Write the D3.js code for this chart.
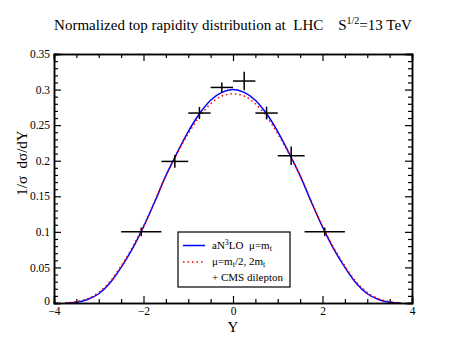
<!DOCTYPE html>
<html>
<head>
<meta charset="utf-8">
<script src="https://cdn.jsdelivr.net/npm/d3@7"></script>
<style>
  body { margin: 0; background: #fff; }
  text { font-family: "Liberation Serif", "DejaVu Serif", serif; fill: #000; }
</style>
</head>
<body>
<div class="chart"></div>
<script>
// rapidity grid for the theory curves
var rapidity = [-3.75, -3.5, -3.25, -3, -2.75, -2.5, -2.25, -2, -1.75, -1.5, -1.25, -1, -0.75, -0.5, -0.25,
  0, 0.25, 0.5, 0.75, 1, 1.25, 1.5, 1.75, 2, 2.25, 2.5, 2.75, 3, 3.25, 3.5, 3.75];
// aN3LO, mu = mt
var an3lo = [0, 0.001, 0.005, 0.013, 0.028, 0.050, 0.076, 0.107, 0.142, 0.179, 0.211, 0.241, 0.266, 0.285, 0.296,
  0.300, 0.296, 0.285, 0.266, 0.241, 0.211, 0.179, 0.142, 0.107, 0.076, 0.050, 0.028, 0.013, 0.005, 0.001, 0];
// mu = mt/2, 2mt
var scaleVar = [0, 0.002, 0.006, 0.015, 0.030, 0.052, 0.078, 0.108, 0.143, 0.179, 0.210, 0.238, 0.262, 0.280, 0.291,
  0.294, 0.291, 0.280, 0.262, 0.238, 0.210, 0.179, 0.143, 0.108, 0.078, 0.052, 0.030, 0.015, 0.006, 0.002, 0];

// CMS dilepton data
var cmsY = [-2.05, -1.3, -0.75, -0.25, 0.25, 0.75, 1.3, 2.05];
var cmsHalfBin = [0.45, 0.3, 0.25, 0.25, 0.25, 0.25, 0.3, 0.45];
var cmsValue = [0.100, 0.199, 0.267, 0.303, 0.312, 0.267, 0.207, 0.100];
var cmsErr = [0.006, 0.009, 0.0085, 0.007, 0.013, 0.009, 0.013, 0.006];

var xTicks = [-4, -2, 0, 2, 4];
var yTicks = [0, 0.05, 0.1, 0.15, 0.2, 0.25, 0.3, 0.35];

var width = 463, height = 358;
var padL = 54, padR = 412, padT = 54, padB = 303;

var svg = d3.select(".chart").append("svg")
  .attr("width", width)
  .attr("height", height);

var x = d3.scaleLinear().domain([-4, 4]).range([padL, padR]);
var y = d3.scaleLinear().domain([0, 0.35]).range([padB, padT]);

// title
var title = svg.append("text")
  .attr("x", 233).attr("y", 30)
  .attr("text-anchor", "middle")
  .style("font-size", "15px")
  .style("white-space", "pre");
title.append("tspan").text("Normalized top rapidity distribution at  LHC    S");
title.append("tspan").attr("dy", -6).style("font-size", "10px").text("1/2");
title.append("tspan").attr("dy", 6).text("=13 TeV");

// curves
var line = d3.line()
  .x((d, i) => x(rapidity[i]))
  .y((d) => y(d))
  .curve(d3.curveMonotoneX);

var plot = svg.append("g");
plot.append("defs").append("clipPath").attr("id", "clip")
  .append("rect").attr("x", padL).attr("y", padT).attr("width", padR - padL).attr("height", padB - padT);

plot.append("path")
  .datum(an3lo)
  .attr("d", line)
  .attr("fill", "none")
  .attr("stroke", "#0000ff")
  .attr("stroke-width", 1.5)
  .attr("clip-path", "url(#clip)");

plot.append("path")
  .datum(scaleVar)
  .attr("d", line)
  .attr("fill", "none")
  .attr("stroke", "#ff0000")
  .attr("stroke-width", 1.5)
  .attr("stroke-dasharray", "1.5,3")
  .attr("clip-path", "url(#clip)");

// CMS crosses
var cms = plot.selectAll(".cms")
  .data(cmsY)
  .enter()
  .append("g")
  .attr("class", "cms");

cms.append("line")
  .attr("x1", (d, i) => x(d - cmsHalfBin[i]))
  .attr("x2", (d, i) => x(d + cmsHalfBin[i]))
  .attr("y1", (d, i) => y(cmsValue[i]))
  .attr("y2", (d, i) => y(cmsValue[i]))
  .attr("stroke", "#000")
  .attr("stroke-width", 1.5);

cms.append("line")
  .attr("x1", (d) => x(d))
  .attr("x2", (d) => x(d))
  .attr("y1", (d, i) => y(cmsValue[i] - cmsErr[i]))
  .attr("y2", (d, i) => y(cmsValue[i] + cmsErr[i]))
  .attr("stroke", "#000")
  .attr("stroke-width", 1.5);

// axes frame with inward ticks on all sides
var xAxisB = d3.axisBottom(x).tickValues(xTicks).tickSize(-7).tickPadding(10).tickFormat(d3.format("d"));
var xAxisT = d3.axisTop(x).tickValues(xTicks).tickSize(-7).tickFormat("");
var yAxisL = d3.axisLeft(y).tickValues(yTicks).tickSize(-7).tickPadding(10).tickFormat((d) => d === 0 ? "0" : String(+d.toFixed(2)));
var yAxisR = d3.axisRight(y).tickValues(yTicks).tickSize(-7).tickFormat("");

var xMinor = d3.range(-4, 4.01, 0.5).filter((d) => d % 2 !== 0);
var yMinor = d3.range(0, 0.351, 0.01).filter((d) => Math.abs(d / 0.05 - Math.round(d / 0.05)) > 1e-6);

function minor(axis, vals) {
  return axis.tickValues(vals).tickSize(-4).tickFormat("");
}

var gB = svg.append("g").attr("transform", `translate(0,${padB})`);
gB.call(xAxisB);
gB.append("g").call(minor(d3.axisBottom(x), xMinor));
var gT = svg.append("g").attr("transform", `translate(0,${padT})`);
gT.call(xAxisT);
gT.append("g").call(minor(d3.axisTop(x), xMinor));
var gL = svg.append("g").attr("transform", `translate(${padL},0)`);
gL.call(yAxisL);
gL.append("g").call(minor(d3.axisLeft(y), yMinor));
var gR = svg.append("g").attr("transform", `translate(${padR},0)`);
gR.call(yAxisR);
gR.append("g").call(minor(d3.axisRight(y), yMinor));

[gB, gT, gL, gR].forEach((g) => g.attr("font-family", "Liberation Serif, serif").attr("font-size", 11.5));
svg.selectAll(".domain").attr("stroke", "#000").attr("stroke-width", 1.5);
svg.selectAll(".tick line").attr("stroke", "#000").attr("stroke-width", 1.2);
svg.selectAll(".tick text").attr("fill", "#000");
gL.selectAll(".tick text").attr("x", -4).attr("dy", "0.32em");
gL.selectAll(".tick text").filter((d) => d === 0).attr("dy", "0.15em");
gB.selectAll(".tick text").attr("y", 4).attr("dy", "0.71em");

// axis labels
svg.append("text")
  .attr("x", 233).attr("y", 332)
  .attr("text-anchor", "middle")
  .style("font-size", "15px")
  .text("Y");

svg.append("text")
  .attr("transform", "translate(27,163) rotate(-90)")
  .attr("text-anchor", "middle")
  .style("font-size", "15px")
  .style("white-space", "pre")
  .text("1/σ  dσ/dY");

// legend
var legend = svg.append("g");
legend.append("rect")
  .attr("x", 178).attr("y", 232)
  .attr("width", 112).attr("height", 55)
  .attr("fill", "#fff")
  .attr("stroke", "#000")
  .attr("stroke-width", 1.2);

legend.append("line")
  .attr("x1", 183).attr("x2", 205).attr("y1", 245.5).attr("y2", 245.5)
  .attr("stroke", "#0000ff").attr("stroke-width", 1.5);
legend.append("line")
  .attr("x1", 183).attr("x2", 205).attr("y1", 262).attr("y2", 262)
  .attr("stroke", "#ff0000").attr("stroke-width", 1.5).attr("stroke-dasharray", "1.5,3");

var t1 = legend.append("text").attr("x", 212).attr("y", 249).style("font-size", "11px").style("white-space", "pre");
t1.append("tspan").text("aN");
t1.append("tspan").attr("dy", -4).style("font-size", "8px").text("3");
t1.append("tspan").attr("dy", 4).text("LO  μ=m");
t1.append("tspan").attr("dy", 2).style("font-size", "8px").text("t");

var t2 = legend.append("text").attr("x", 212).attr("y", 265).style("font-size", "11px").style("white-space", "pre");
t2.append("tspan").text("μ=m");
t2.append("tspan").attr("dy", 2).style("font-size", "8px").text("t");
t2.append("tspan").attr("dy", -2).text("/2, 2m");
t2.append("tspan").attr("dy", 2).style("font-size", "8px").text("t");

legend.append("text").attr("x", 212).attr("y", 281).style("font-size", "11px").text("+ CMS dilepton");
</script>
</body>
</html>
